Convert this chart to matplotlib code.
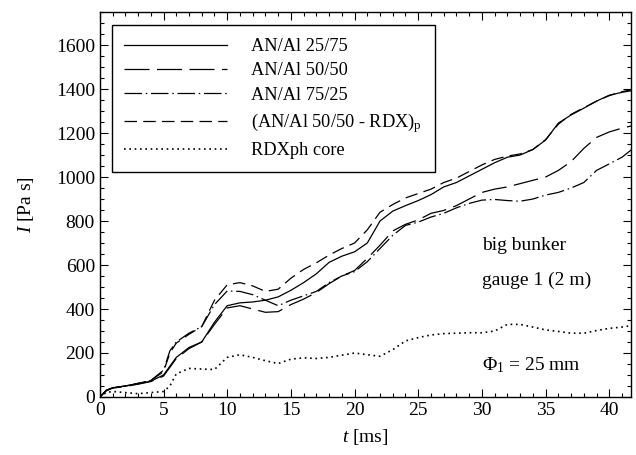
import numpy as np
import matplotlib
matplotlib.use('Agg')
import matplotlib.pyplot as plt
from matplotlib.ticker import MultipleLocator

plt.rcParams['font.family'] = 'Liberation Serif'
plt.rcParams['mathtext.fontset'] = 'custom'
plt.rcParams['mathtext.rm'] = 'Liberation Serif'
plt.rcParams['mathtext.it'] = 'Liberation Serif:italic'

# time axis (ms)
t = [0, 0.5, 1, 2, 3, 4, 5, 5.5, 6, 7, 8, 9, 10, 11, 12, 13, 14, 15, 16, 17, 18, 19, 20,
     21, 22, 23, 24, 25, 26, 27, 28, 29, 30, 31, 32, 33, 34, 35, 36, 37, 38, 39, 40, 41, 42]

# impulse (Pa s)
an_al_25_75 = [0, 30, 42, 50, 60, 72, 100, 140, 180, 225, 250, 340, 415, 428, 432, 440, 455, 485,
               520, 560, 612, 640, 660, 700, 800, 845, 870, 893, 920, 955, 975, 1005, 1035, 1065,
               1090, 1100, 1125, 1168, 1245, 1282, 1313, 1345, 1372, 1385, 1395]
an_al_50_50 = [0, 28, 40, 48, 58, 70, 95, 135, 175, 220, 250, 330, 405, 415, 400, 385, 388, 420,
               445, 475, 515, 550, 575, 630, 690, 755, 785, 805, 835, 848, 870, 900, 930, 945,
               955, 970, 985, 1000, 1030, 1070, 1130, 1180, 1205, 1222, 1236]
an_al_75_25 = [0, 30, 42, 50, 62, 75, 122, 210, 250, 290, 320, 420, 482, 480, 465, 440, 415, 440,
               460, 480, 520, 550, 570, 615, 675, 735, 780, 795, 818, 835, 860, 880, 895, 898,
               893, 890, 900, 918, 930, 950, 975, 1030, 1060, 1090, 1136]
an_al_rdx = [0, 30, 42, 50, 62, 75, 115, 200, 245, 285, 320, 440, 510, 520, 505, 480, 490, 540,
             580, 610, 645, 675, 700, 760, 840, 875, 905, 925, 945, 975, 995, 1025, 1055, 1080,
             1095, 1105, 1125, 1170, 1240, 1285, 1315, 1345, 1370, 1388, 1400]
rdx_core = [0, 20, 25, 20, 15, 20, 25, 50, 105, 130, 127, 125, 180, 192, 180, 165, 152, 172,
            178, 175, 180, 190, 200, 192, 185, 215, 255, 270, 282, 288, 290, 292, 292, 300,
            330, 330, 318, 305, 298, 290, 290, 302, 312, 318, 327]

labels = ['AN/Al 25/75', 'AN/Al 50/50', 'AN/Al 75/25',
          r'(AN/Al 50/50 - RDX)$_{\mathrm{p}}$', 'RDXph core']

fig = plt.figure(figsize=(6.36, 4.55), dpi=100)
ax = fig.add_axes([0.157, 0.1275, 0.835, 0.846])

lw = 0.9
ax.plot(t, an_al_25_75, color='black', lw=lw, linestyle='-', label=labels[0])
ax.plot(t, an_al_50_50, color='black', lw=lw, linestyle=(0, (20, 6)), label=labels[1])
ax.plot(t, an_al_75_25, color='black', lw=lw, linestyle=(0, (14, 3, 1.2, 3)), label=labels[2])
ax.plot(t, an_al_rdx, color='black', lw=lw, linestyle=(0, (10, 5)), label=labels[3])
ax.plot(t, rdx_core, color='black', lw=1.2, linestyle=(0, (1, 2.2)), label=labels[4])

ax.set_xlim(0, 41.7)
ax.set_ylim(0, 1750)
ax.xaxis.set_major_locator(MultipleLocator(5))
ax.xaxis.set_minor_locator(MultipleLocator(1))
ax.yaxis.set_major_locator(MultipleLocator(200))
ax.yaxis.set_minor_locator(MultipleLocator(50))
ax.tick_params(which='both', direction='in', top=True, right=True, labelsize=14, width=0.8)
ax.tick_params(which='major', length=6)
ax.tick_params(which='minor', length=3)
for s in ax.spines.values():
    s.set_linewidth(1.0)

ax.set_xlabel(r'$\it{t}$ [ms]', fontsize=14, labelpad=6)
ax.set_ylabel(r'$\it{I}$ [Pa s]', fontsize=14, labelpad=14)

leg = ax.legend(loc='upper left', bbox_to_anchor=(0.022, 0.966), fontsize=13.2,
                frameon=True, fancybox=False, edgecolor='black', framealpha=1,
                handlelength=5.6, handletextpad=1.3, labelspacing=0.4,
                borderpad=0.7, borderaxespad=0)
leg.get_frame().set_linewidth(1.0)

ax.text(30.0, 690, 'big bunker', fontsize=14, va='center')
ax.text(30.0, 530, 'gauge 1 (2 m)', fontsize=14, va='center')
ax.text(30.0, 145, r'$\Phi_1$ = 25 mm', fontsize=14, va='center')

plt.savefig('out.png', dpi=100)
plt.close()
